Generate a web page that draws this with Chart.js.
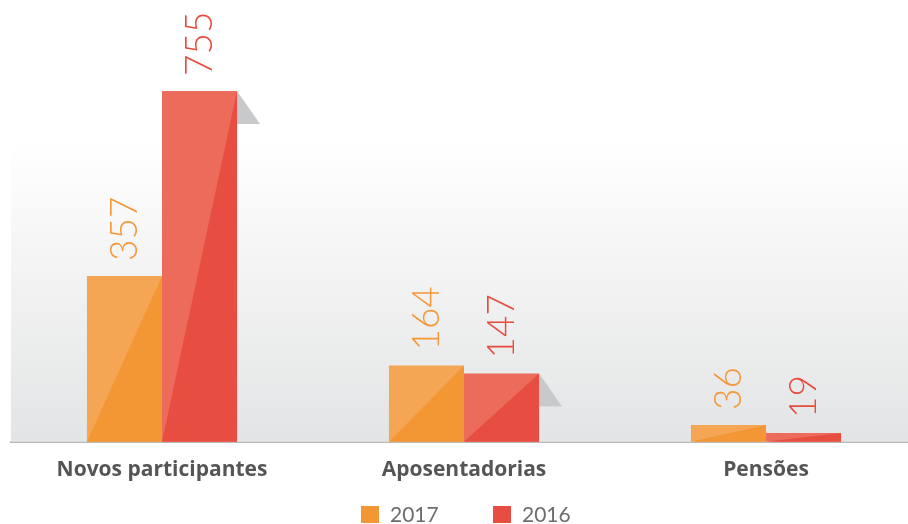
<!DOCTYPE html>
<html>
<head>
<meta charset="utf-8">
<script src="https://cdn.jsdelivr.net/npm/chart.js@4.4.1/dist/chart.umd.min.js"></script>
<style>
  html, body { margin: 0; padding: 0; background: #fff; overflow: hidden; }
  #wrap { width: 917px; height: 524px; }
</style>
</head>
<body>
<div id="wrap"><canvas id="myChart" width="917" height="524"></canvas></div>
<script>
let labels = ['Novos participantes', 'Aposentadorias', 'Pensões'];
let seriesNames = ['2017', '2016'];
let data2017 = [357, 164, 36];
let data2016 = [755, 147, 19];
let lightColors = ['#f4a654', '#ec6b5a'];
let darkColors = ['#f39735', '#e84d41'];
let textColors = ['#f4993a', '#e84c3d'];

// fundo em degradê, sombras, triângulos escuros, valores e legenda
let barDecor = {
    id: 'barDecor',
    beforeDatasetsDraw(chart) {
        let ctx = chart.ctx;
        let area = chart.chartArea;
        let grad = ctx.createLinearGradient(0, 140, 0, area.bottom);
        grad.addColorStop(0, '#ffffff');
        grad.addColorStop(1, '#e3e4e5');
        ctx.save();
        ctx.fillStyle = grad;
        ctx.fillRect(area.left, 140, area.right - area.left, area.bottom - 140);
        ctx.restore();

        // sombra cinza à direita das barras de 2016
        let meta = chart.getDatasetMeta(1);
        ctx.save();
        ctx.fillStyle = '#c8c9cb';
        meta.data.forEach(bar => {
            let h = bar.base - bar.y;
            if (h < 45) return;
            let r = bar.x + bar.width / 2;
            ctx.beginPath();
            ctx.moveTo(r, bar.y);
            ctx.lineTo(r + 23, bar.y + 33);
            ctx.lineTo(r, bar.y + 33);
            ctx.closePath();
            ctx.fill();
        });
        ctx.restore();
    },
    afterDatasetsDraw(chart) {
        let ctx = chart.ctx;
        chart.data.datasets.forEach((ds, i) => {
            let meta = chart.getDatasetMeta(i);
            meta.data.forEach((bar, j) => {
                let l = bar.x - bar.width / 2;
                let r = bar.x + bar.width / 2;
                ctx.save();
                ctx.fillStyle = darkColors[i];
                ctx.beginPath();
                ctx.moveTo(l, bar.base);
                ctx.lineTo(r, bar.y);
                ctx.lineTo(r, bar.base);
                ctx.closePath();
                ctx.fill();
                ctx.restore();

                ctx.save();
                ctx.translate(bar.x, bar.y - 15);
                ctx.rotate(-Math.PI / 2);
                ctx.fillStyle = textColors[i];
                ctx.font = '300 37px Lato';
                ctx.textAlign = 'left';
                ctx.textBaseline = 'middle';
                ctx.fillText(ds.data[j], 0, 1);
                ctx.restore();
            });
        });
    },
    afterDraw(chart) {
        // legenda embaixo
        let ctx = chart.ctx;
        let boxX = [361, 493];
        ctx.save();
        ctx.font = '21px Lato';
        ctx.textBaseline = 'middle';
        ctx.textAlign = 'left';
        seriesNames.forEach((name, i) => {
            ctx.fillStyle = darkColors[i];
            ctx.fillRect(boxX[i], 506, 18, 17);
            ctx.fillStyle = '#6d6d6d';
            ctx.fillText(name, boxX[i] + 29, 515);
        });
        ctx.restore();
    }
};

let myChart = document.getElementById("myChart").getContext('2d');

let chart = new Chart(myChart, {
    type: 'bar',
    data: {
        labels: labels,
        datasets: [
            {
                label: seriesNames[0],
                data: data2017,
                backgroundColor: lightColors[0],
                borderWidth: 0
            },
            {
                label: seriesNames[1],
                data: data2016,
                backgroundColor: lightColors[1],
                borderWidth: 0
            }
        ]
    },
    plugins: [barDecor],
    options: {
        responsive: false,
        animation: false,
        layout: {
            padding: { left: 11, right: 0, top: 70, bottom: 33 }
        },
        datasets: {
            bar: { categoryPercentage: 0.497, barPercentage: 1 }
        },
        scales: {
            x: {
                grid: { display: false },
                border: { display: true, color: '#b8b8b8', width: 2 },
                ticks: {
                    color: '#555555',
                    font: { family: 'Open Sans', size: 21, weight: 'bold' },
                    padding: 8
                }
            },
            y: {
                display: false,
                min: 0,
                max: 800
            }
        },
        plugins: {
            legend: { display: false },
            tooltip: { enabled: false }
        }
    }
});
</script>
</body>
</html>
